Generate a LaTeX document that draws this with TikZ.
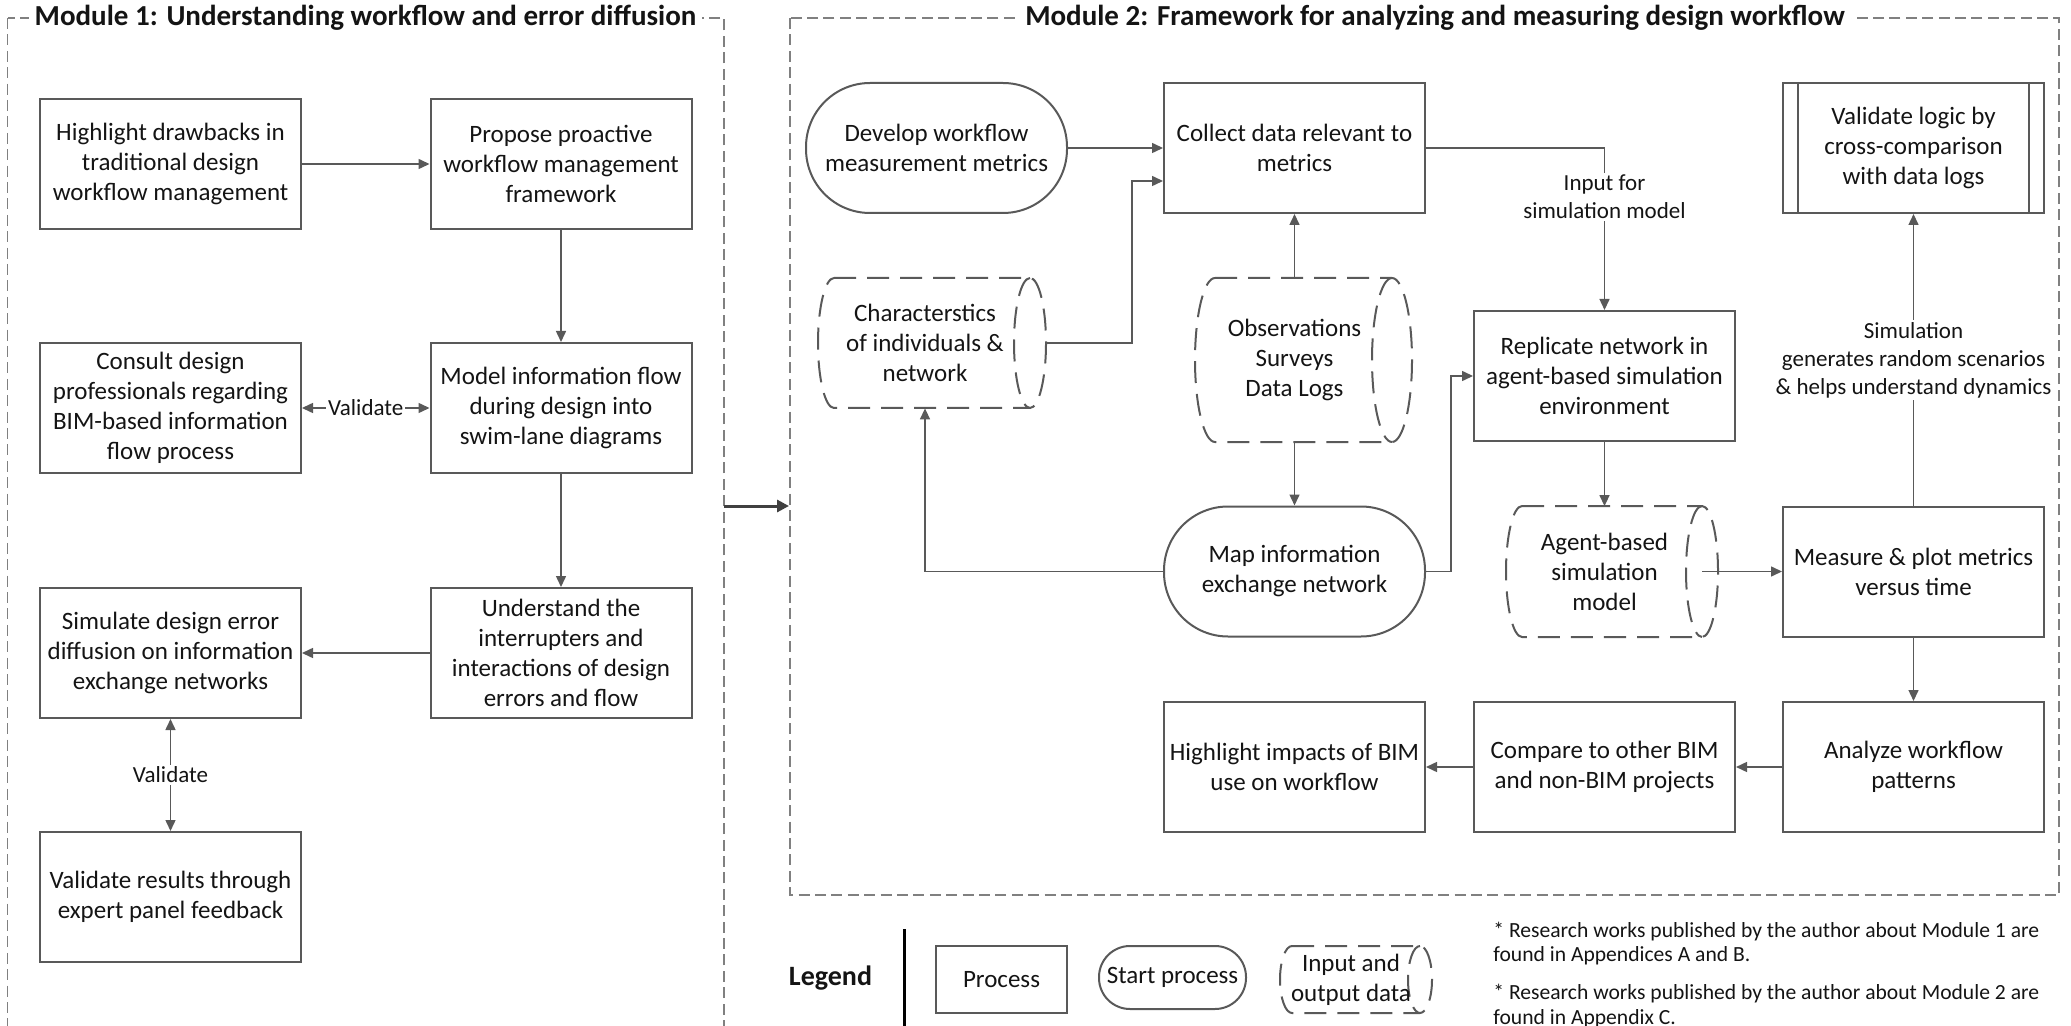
\documentclass[tikz,border=0pt]{standalone}
\usepackage{fontspec}
\setmainfont{Carlito}
\usetikzlibrary{arrows.meta,calc}

\definecolor{linegray}{HTML}{595959}
\definecolor{framegray}{HTML}{808080}
\definecolor{txt}{HTML}{141414}

\newcommand\bxfont{\fontsize{12.5pt}{15pt}\selectfont}
\newcommand\lbfont{\fontsize{11.5pt}{14pt}\selectfont}
\newcommand\ttlfont{\fontsize{14.5pt}{17pt}\selectfont\bfseries}
\newcommand\lgfont{\fontsize{14pt}{17pt}\selectfont\bfseries}
\newcommand\ntfont{\fontsize{10.8pt}{12.4pt}\selectfont}

% outline of a horizontal "direct data" cylinder: left centre, right centre, x radius, top, bottom
\newcommand\datashape[5]{%
  \draw[datadash] (#1,#4) -- (#2,#4)
    arc[start angle=-90,end angle=90,x radius=#3,y radius={(#5-#4)/2}]
    -- (#1,#5)
    arc[start angle=90,end angle=270,x radius=#3,y radius={(#5-#4)/2}] -- cycle;
  \draw[datadash] (#2,#4)
    arc[start angle=270,end angle=90,x radius=#3,y radius={(#5-#4)/2}];
}

\tikzset{
  every node/.style={text=txt},
  proc/.style={draw=linegray, line width=1pt, minimum width=130.5pt,
    minimum height=65pt, inner sep=0pt, align=center, font=\bxfont},
  startproc/.style={proc, rounded corners=32pt},
  datatext/.style={minimum width=100pt, minimum height=65pt, inner sep=0pt,
    align=center, font=\bxfont},
  boxline/.style={draw=linegray, line width=1pt},
  conn/.style={draw=linegray, line width=0.75pt, -{Triangle[length=5.5pt,width=5pt]}},
  biconn/.style={draw=linegray, line width=0.75pt,
    {Triangle[length=5.5pt,width=5pt]}-{Triangle[length=5.5pt,width=5pt]}},
  modarrow/.style={draw=black!75, line width=1.5pt, -{Triangle[length=6pt,width=6pt]}},
  modframe/.style={draw=framegray, line width=0.6pt, dash pattern=on 5.5pt off 2.7pt},
  datadash/.style={draw=linegray, line width=1pt, dash pattern=on 11pt off 5.5pt},
  lbl/.style={fill=white, inner sep=1pt, align=center, font=\lbfont},
  modtitle/.style={fill=white, inner xsep=3pt, inner ysep=1pt, font=\ttlfont},
}

\begin{document}
\begin{tikzpicture}[x=0.5pt, y=-0.5pt]
\useasboundingbox (0,0) rectangle (2071,1026);

% ---------- module frames ----------
\draw[modframe] (7.5,18) rectangle (724,1060);
\draw[modframe] (790,18) rectangle (2059,895);
\node[modtitle] (t1) at (365.5,18) {Module 1: Understanding workflow and error diffusion};
\node[modtitle] (t2) at (1435,18) {Module 2: Framework for analyzing and measuring design workflow};

% ---------- Module 1 ----------
\node[proc] (b1) at (170.5,164) {Highlight drawbacks in\\traditional design\\workflow management};
\node[proc] (b2) at (561,164) {Propose proactive\\workflow management\\framework};
\node[proc] (b3) at (170.5,408) {Consult design\\professionals regarding\\BIM-based information\\flow process};
\node[proc] (b4) at (561,408) {Model information flow\\during design into\\swim-lane diagrams};
\node[proc] (b5) at (170.5,653) {Simulate design error\\diffusion on information\\exchange networks};
\node[proc] (b6) at (561,653) {Understand the\\interrupters and\\interactions of design\\errors and flow};
\node[proc] (b7) at (170.5,897) {Validate results through\\expert panel feedback};

\draw[conn] (b1) -- (b2);
\draw[conn] (b2) -- (b4);
\draw[biconn] (b3) -- node[lbl] (v1) {Validate} (b4);
\draw[conn] (b4) -- (b6);
\draw[conn] (b6) -- (b5);
\draw[biconn] (b5) -- node[lbl] (v2) {Validate} (b7);

% ---------- link between modules ----------
\coordinate (m1out) at (724,506);
\coordinate (m2in) at (789,506);
\draw[modarrow] (m1out) -- (m2in);

% ---------- Module 2 ----------
\node[startproc] (dev) at (936.5,148) {Develop workflow\\measurement metrics};
\node[proc] (col) at (1294.5,148) {Collect data relevant to\\metrics};
\node[proc] (val) at (1913.5,148) {Validate logic by\\cross-comparison\\with data logs};
\draw[boxline] ([xshift=8pt]val.north west) -- ([xshift=8pt]val.south west);
\draw[boxline] ([xshift=-8pt]val.north east) -- ([xshift=-8pt]val.south east);

\datashape{834}{1030}{16}{278}{408}
\node[datatext] (chr) at (925,343) {Characterstics\\of individuals \&\\network};
\datashape{1215}{1392}{20}{278}{442}
\node[datatext, minimum height=82pt] (obs) at (1294.5,360) {Observations\\Surveys\\Data Logs};

\node[proc] (rep) at (1604.5,376) {Replicate network in\\agent-based simulation\\environment};

\node[startproc] (map) at (1294.5,571.5) {Map information\\exchange network};
\datashape{1522}{1702}{16}{506}{637}
\node[datatext, minimum width=80pt] (agt) at (1604.5,571.5) {Agent-based\\simulation\\model};
\node[proc] (meas) at (1913.5,571.5) {Measure \& plot metrics\\versus time};

\node[proc] (hil) at (1294.5,767) {Highlight impacts of BIM\\use on workflow};
\node[proc] (cmp) at (1604.5,767) {Compare to other BIM\\and non-BIM projects};
\node[proc] (ana) at (1913.5,767) {Analyze workflow\\patterns};

\coordinate (chrout) at (1046,343);
\coordinate (agtcap) at (1702,571.5);

\draw[conn] (dev) -- (col);
\draw[conn] (chrout) -- ++(86,0) |- ($(col.west)+(0,33)$);
\draw[conn] (obs) -- (col);
\draw[conn] (obs) -- (map);
\draw[conn] (map.west) -| (chr.south);
\draw[conn] (map.east) -- ++(25,0) |- (rep.west);
\draw[conn] (col.east) -| (rep.north);
\node[lbl] (inlbl) at (1604.5,197) {Input for\\simulation model};
\draw[conn] (rep) -- (agt);
\draw[conn] (agtcap) -- (meas.west);
\draw[conn] (meas) -- (val);
\node[lbl] (simlbl) at (1913.5,360) {Simulation\\generates random scenarios\\\& helps understand dynamics};
\draw[conn] (meas) -- (ana);
\draw[conn] (ana) -- (cmp);
\draw[conn] (cmp) -- (hil);

% ---------- legend ----------
\node[font=\lgfont, inner sep=0pt] (leg) at (830.5,978) {Legend};
\coordinate (legtop) at (904,929);
\coordinate (legbot) at (904,1040);
\draw[line width=1.5pt, black] (legtop) -- (legbot);
\node[proc, minimum width=65.5pt, minimum height=33.5pt] (lproc) at (1001.5,979.5) {Process};
\node[startproc, minimum width=73.5pt, minimum height=31.5pt, rounded corners=15.5pt] (lstart) at (1172.5,977.5) {Start process};
\datashape{1292}{1420}{12}{946}{1013}
\node[datatext, minimum width=60pt, minimum height=33.5pt] (ldata) at (1351,979.5) {Input and\\output data};

% ---------- notes ----------
\node[anchor=west, align=left, inner sep=0pt, font=\ntfont] (n1) at (1493,943.5)
  {* Research works published by the author about Module 1 are\\found in Appendices A and B.};
\node[anchor=west, align=left, inner sep=0pt, font=\ntfont] (n2) at (1493,1006)
  {* Research works published by the author about Module 2 are\\found in Appendix C.};
\end{tikzpicture}
\end{document}
